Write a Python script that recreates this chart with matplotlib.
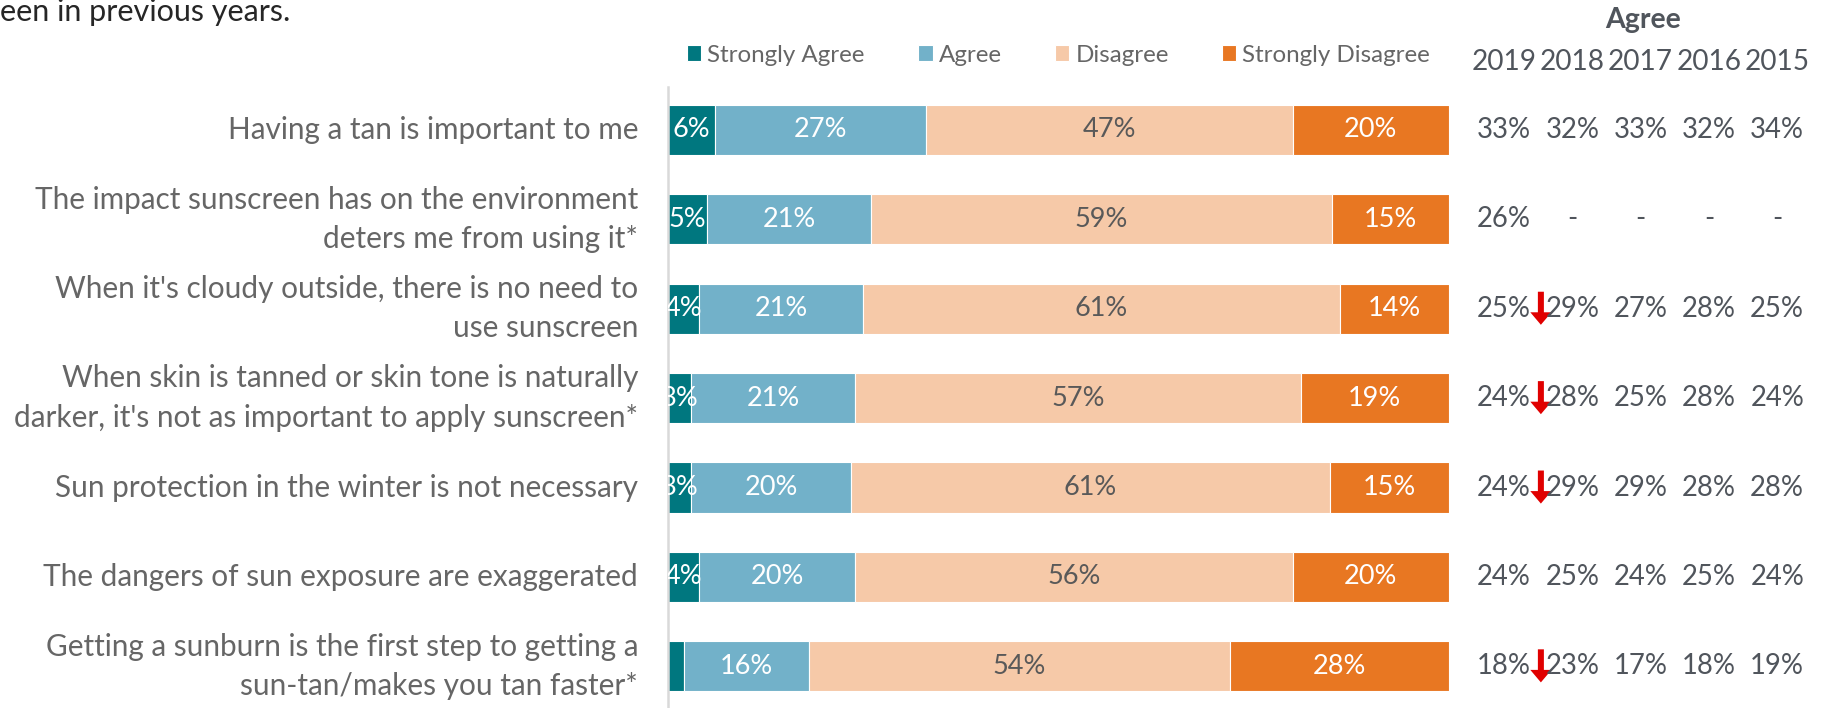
import numpy as np
import matplotlib.pyplot as plt

plt.rcParams['font.family'] = ['Lato', 'DejaVu Sans']

statements = [
    "Having a tan is important to me",
    "The impact sunscreen has on the environment\ndeters me from using it*",
    "When it's cloudy outside, there is no need to\nuse sunscreen",
    "When skin is tanned or skin tone is naturally\ndarker, it's not as important to apply sunscreen*",
    "Sun protection in the winter is not necessary",
    "The dangers of sun exposure are exaggerated",
    "Getting a sunburn is the first step to getting a\nsun-tan/makes you tan faster*",
]
series = ["Strongly Agree", "Agree", "Disagree", "Strongly Disagree"]
strongly_agree = [6, 5, 4, 3, 3.0, 4, 2]
agree = [27, 21, 21, 21, 20.4, 20, 16]
disagree = [47, 59, 61, 57, 61.4, 56, 54]
strongly_disagree = [20, 15, 14, 19, 15.2, 20, 28]
# the 2% segment in the last row carries no label
hide_label = [(0, 6)]

years = ["2019", "2018", "2017", "2016", "2015"]
agree_by_year = [
    ["33%", "32%", "33%", "32%", "34%"],
    ["26%", "-", "-", "-", "-"],
    ["25%", "29%", "27%", "28%", "25%"],
    ["24%", "28%", "25%", "28%", "24%"],
    ["24%", "29%", "29%", "28%", "28%"],
    ["24%", "25%", "24%", "25%", "24%"],
    ["18%", "23%", "17%", "18%", "19%"],
]
down_rows = [2, 3, 4, 6]

colors = ["#00777f", "#72b1c9", "#f6c9a8", "#e87722"]
label_colors = ["white", "white", "#595959", "white"]
grey = "#666666"
dark = "#50555c"

W, H = 1823, 708
fig = plt.figure(figsize=(W / 100, H / 100), dpi=100)

# main bar axes, pixel layout
top_px, row_px = 87, 89.4
n = len(statements)
bottom_px = top_px + row_px * n
ax = fig.add_axes([668 / W, 1 - bottom_px / H, (1449 - 668) / W, (bottom_px - top_px) / H])
y = np.arange(n)
data = [strongly_agree, agree, disagree, strongly_disagree]
left = np.zeros(n)
handles = []
for k, vals in enumerate(data):
    vals = np.array(vals, dtype=float)
    b = ax.barh(y, vals, left=left, height=0.56, color=colors[k],
                edgecolor="white", linewidth=0.8, label=series[k])
    handles.append(b)
    for i in range(n):
        if (k, i) not in hide_label:
            ax.text(left[i] + vals[i] / 2, y[i], f"{vals[i]:.0f}%", ha="center",
                    va="center", fontsize=19.5, color=label_colors[k], clip_on=True)
    left += vals
ax.set_xlim(0, 100)
ax.set_ylim(n - 0.5 + 0.02, -0.48)
for s in ["top", "right", "bottom"]:
    ax.spines[s].set_visible(False)
ax.spines["left"].set_color("#d9d9d9")
ax.spines["left"].set_linewidth(1.8)
ax.set_xticks([])
ax.set_yticks([])

# category labels, right aligned 30px left of the axis
for i, s in enumerate(statements):
    ax.text(-30 / 781 * 100, i, s, ha="right", va="center", fontsize=21.4,
            color=grey, linespacing=1.5, clip_on=False)

ax.legend(handles=handles, loc="center", bbox_to_anchor=(0.5, 1 + (87 - 55) / (bottom_px - top_px)),
          ncol=4, frameon=False, fontsize=17.4, handlelength=0.6, handleheight=0.6,
          handletextpad=0.25, columnspacing=2.2, labelcolor=grey)

# right-hand table of agree % by year
c0, cw = 1504, 68.3
tab = fig.add_axes([1460 / W, 1 - bottom_px / H, (W - 1460) / W, (bottom_px - top_px) / H])
tab.set_xlim((1460 - c0) / cw, (W - c0) / cw)
tab.set_ylim(ax.get_ylim())
tab.axis("off")
for i, row in enumerate(agree_by_year):
    for j, v in enumerate(row):
        tab.text(j, i, v, ha="center", va="center", fontsize=19.8, color=dark)
for j, yr in enumerate(years):
    tab.text(j, (62 - 129.6) / row_px, yr, ha="center", va="center", fontsize=20.2,
             color=dark, clip_on=False)
tab.text(2.04, (20 - 129.6) / row_px, "Agree", ha="center", va="center", fontsize=20.5,
         fontweight="bold", color=dark, clip_on=False)
for r in down_rows:
    tab.arrow(0.54, r - 0.19, 0, 0.37, width=0.088, head_width=0.31, head_length=0.14,
              length_includes_head=True, color="#e00000", linewidth=0)

fig.text(0, 1 - 12 / H, "een in previous years.", fontsize=22, color="#262626",
         ha="left", va="center")

fig.savefig("out.png", dpi=100)
